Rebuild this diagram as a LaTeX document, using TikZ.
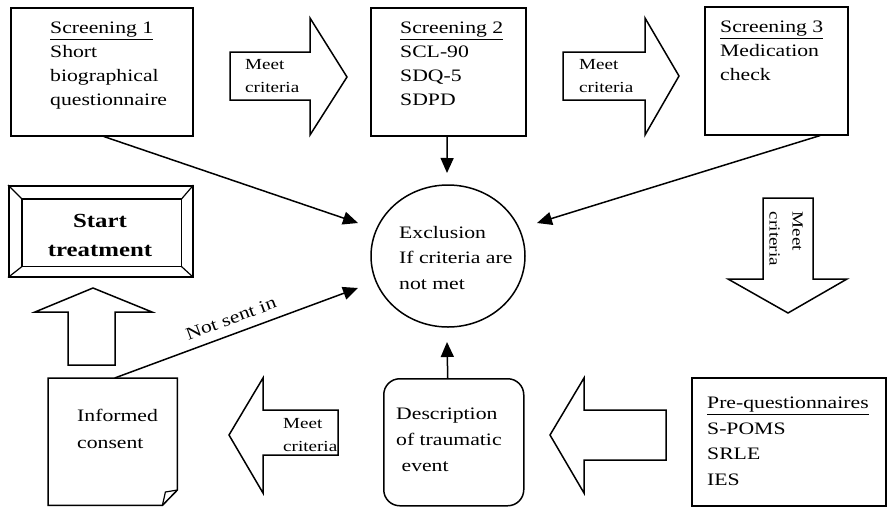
\documentclass[tikz,border=0pt]{standalone}
\usepackage{fontspec}
\setmainfont{Liberation Serif}[FakeStretch=1.24]
\usetikzlibrary{arrows.meta,calc,shapes.geometric}
\begin{document}
\begin{tikzpicture}[x=1pt,y=-1pt,
  shape box/.style={draw, line width=1.5pt, inner sep=0pt, anchor=north west},
  txt/.style={anchor=north west, inner sep=0pt, align=left, font=\fontsize{17.5}{24}\selectfont},
  smalltxt/.style={anchor=north west, inner sep=0pt, align=left, font=\fontsize{15.4}{23}\selectfont},
  conn/.style={line width=1.5pt, -{Triangle[length=15pt,width=13pt]}},
  blockarrow/.style={draw, line width=1.5pt, line join=miter, fill=white}]
\useasboundingbox (0,0) rectangle (887,507);

% boxes
\node[shape box, minimum width=182pt, minimum height=128pt] (s1) at (10,7) {};
\node[shape box, minimum width=155pt, minimum height=128pt] (s2) at (370,7) {};
\node[shape box, minimum width=143pt, minimum height=128pt] (s3) at (704,6) {};
\node[shape box, minimum width=194pt, minimum height=128pt] (pq) at (691,377) {};
\node[shape box, minimum width=140pt, minimum height=127pt, rounded corners=16pt] (desc) at (383,378) {};
\node[inner sep=0pt, anchor=north west, minimum width=129pt, minimum height=127pt] (consent) at (48,378) {};
\node[draw, ellipse, line width=1.5pt, minimum width=154pt, minimum height=142pt, inner sep=0pt] (ex) at (448,256) {};
\node[shape box, minimum width=184pt, minimum height=91pt] (st) at (8,185) {};

% informed consent outline with folded corner
\draw[line width=1.5pt, line join=miter]
  (consent.north west) -- (consent.north east) -- ($(consent.north east)+(0,112)$)
  -- ($(consent.south east)+(-15,0)$) -- (consent.south west) -- cycle;
\draw[line width=1.2pt]
  ($(consent.north east)+(0,112)$) -- ($(consent.north east)+(-12,114)$)
  -- ($(consent.south east)+(-15,0)$);

% start treatment bevel
\coordinate (iNW) at ($(st.north west)+(14,14)$);
\coordinate (iNE) at ($(st.north east)+(-12,14)$);
\coordinate (iSW) at ($(st.south west)+(14,-11)$);
\coordinate (iSE) at ($(st.south east)+(-12,-11)$);
\draw[line width=1.5pt] (iNW) -- (iNE) -- (iSE) -- (iSW) -- cycle;
\draw[line width=1.2pt] (st.north west) -- (iNW) (st.north east) -- (iNE)
  (st.south west) -- (iSW) (st.south east) -- (iSE);
\node[inner sep=0pt, align=center, font=\fontsize{20}{29}\selectfont\bfseries] (sttxt) at (100,235) {Start\\treatment};

% block arrows
\path[blockarrow] (230,52) -- (310,52) -- (310,18) -- (347,77) -- (310,135) -- (310,100) -- (230,100) -- cycle;
\path[blockarrow] (563,52) -- (645,52) -- (645,18) -- (679,76) -- (645,135) -- (645,100) -- (563,100) -- cycle;
\path[blockarrow] (763,198) -- (813,198) -- (813,279) -- (847,279) -- (788,313) -- (728,279) -- (763,279) -- cycle;
\path[blockarrow] (666,410) -- (584,410) -- (584,378) -- (550,435) -- (584,493) -- (584,460) -- (666,460) -- cycle;
\path[blockarrow] (338,410) -- (263,410) -- (263,378) -- (229,435) -- (263,493) -- (263,455) -- (338,455) -- cycle;
\path[blockarrow] (68,365) -- (68,312) -- (35,312) -- (93,288) -- (152,312) -- (115,312) -- (115,365) -- cycle;

% texts
\node[txt] (t1) at (50,22) {\underline{Screening 1}\\Short\\biographical\\questionnaire};
\node[txt] (t2) at (400,22) {\underline{Screening 2}\\SCL-90\\SDQ-5\\SDPD};
\node[txt] (t3) at (720,21) {\underline{Screening 3}\\Medication\\check};
\node[txt, font=\fontsize{17.5}{25.5}\selectfont] (tex) at (399,226) {Exclusion\\If criteria are\\not met};
\node[txt, font=\fontsize{17.5}{26}\selectfont] (tdesc) at (396,408) {Description\\of traumatic\\\ event};
\node[txt, font=\fontsize{17.5}{27}\selectfont] (tcons) at (77,409) {Informed\\consent};
\node[txt, font=\fontsize{17.5}{25.5}\selectfont] (tpq) at (707,397) {\underline{Pre-questionnaires}\\S-POMS\\SRLE\\IES};
\node[smalltxt] (m1) at (245,59) {Meet\\criteria};
\node[smalltxt] (m2) at (579,59) {Meet\\criteria};
\node[smalltxt] (m3) at (283,418) {Meet\\criteria};
\node[inner sep=0pt, align=left, rotate=-90, font=\fontsize{15.4}{23}\selectfont] (m4) at (786,239) {Meet\\criteria};

% connectors
\coordinate (e1) at (358,223);
\coordinate (e2) at (447,173);
\coordinate (e3) at (537,223);
\coordinate (e4) at (358,288);
\coordinate (e5) at (447,342);
\draw[conn] ($(s1.south)+(2,0)$) -- (e1);
\draw[conn] ($(s2.south)+(-1,0)$) -- (e2);
\draw[conn] ($(s3.south)+(44,0)$) -- (e3);
\draw[conn] ($(consent.north)+(2,0)$) -- node[pos=0.5, sloped, above=9pt, inner sep=0pt, font=\fontsize{17.5}{24}\selectfont] (nsi) {Not sent in} (e4);
\draw[conn] ($(desc.north)+(-6,0)$) -- (e5);
\end{tikzpicture}
\end{document}
